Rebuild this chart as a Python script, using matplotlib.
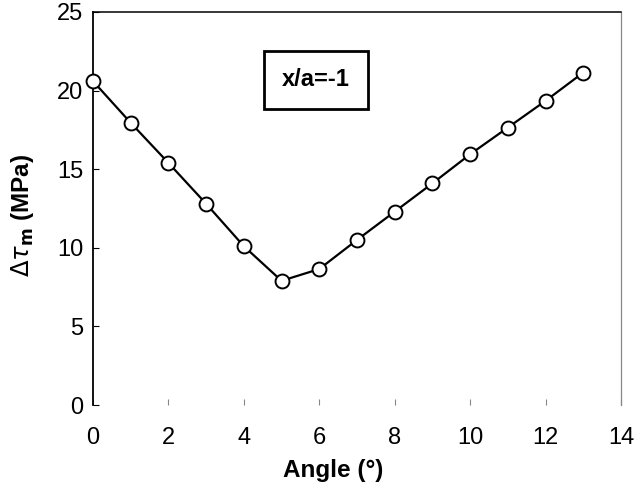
import matplotlib
matplotlib.use("Agg")
import matplotlib.pyplot as plt

plt.rcParams['font.family'] = ['Liberation Sans', 'DejaVu Sans']

# values
angle = [0, 1, 2, 3, 4, 5, 6, 7, 8, 9, 10, 11, 12, 13]
dtau = [20.6, 17.95, 15.4, 12.8, 10.1, 7.9, 8.65, 10.5, 12.3, 14.1, 15.95, 17.65, 19.35, 21.15]
xticks = [0, 2, 4, 6, 8, 10, 12, 14]
yticks = [0, 5, 10, 15, 20, 25]

fig = plt.figure(figsize=(6.39, 4.97), dpi=100)
ax = fig.add_axes([93/639, 1 - 405/497, (621 - 93)/639, (405 - 12)/497])

ax.plot(angle, dtau, color='black', lw=1.6, marker='o', ms=10,
        mfc='white', mec='black', mew=1.4, clip_on=False, zorder=3)

ax.set_xlim(0, 14)
ax.set_ylim(0, 25)
ax.set_xticks(xticks)
ax.set_yticks(yticks)
ax.tick_params(axis='both', direction='in', labelsize=17, length=4)
ax.tick_params(axis='x', pad=16, color='#888888', width=0.8)
ax.tick_params(axis='y', pad=7, width=0.8)

ax.spines['bottom'].set_visible(False)
ax.spines['left'].set_linewidth(1.3)
ax.spines['top'].set_linewidth(1.1)
ax.spines['right'].set_color('#888888')
ax.spines['right'].set_linewidth(0.9)

fig.text(333/639, 1 - 470/497, 'Angle (°)', ha='center', va='center',
         fontsize=17.5, fontweight='bold')
fig.text(22/639, 1 - 215/497, r'$\Delta\tau_\mathbf{m}$ (MPa)', rotation=90,
         ha='center', va='center', fontsize=17.5, fontweight='bold')

fig.text(316/639, 1 - 80/497, 'x/a=-1', ha='center', va='center',
         fontsize=17, fontweight='bold',
         bbox=dict(boxstyle='square,pad=0.75', fc='white', ec='black', lw=2))

fig.savefig('out.png', dpi=100)
